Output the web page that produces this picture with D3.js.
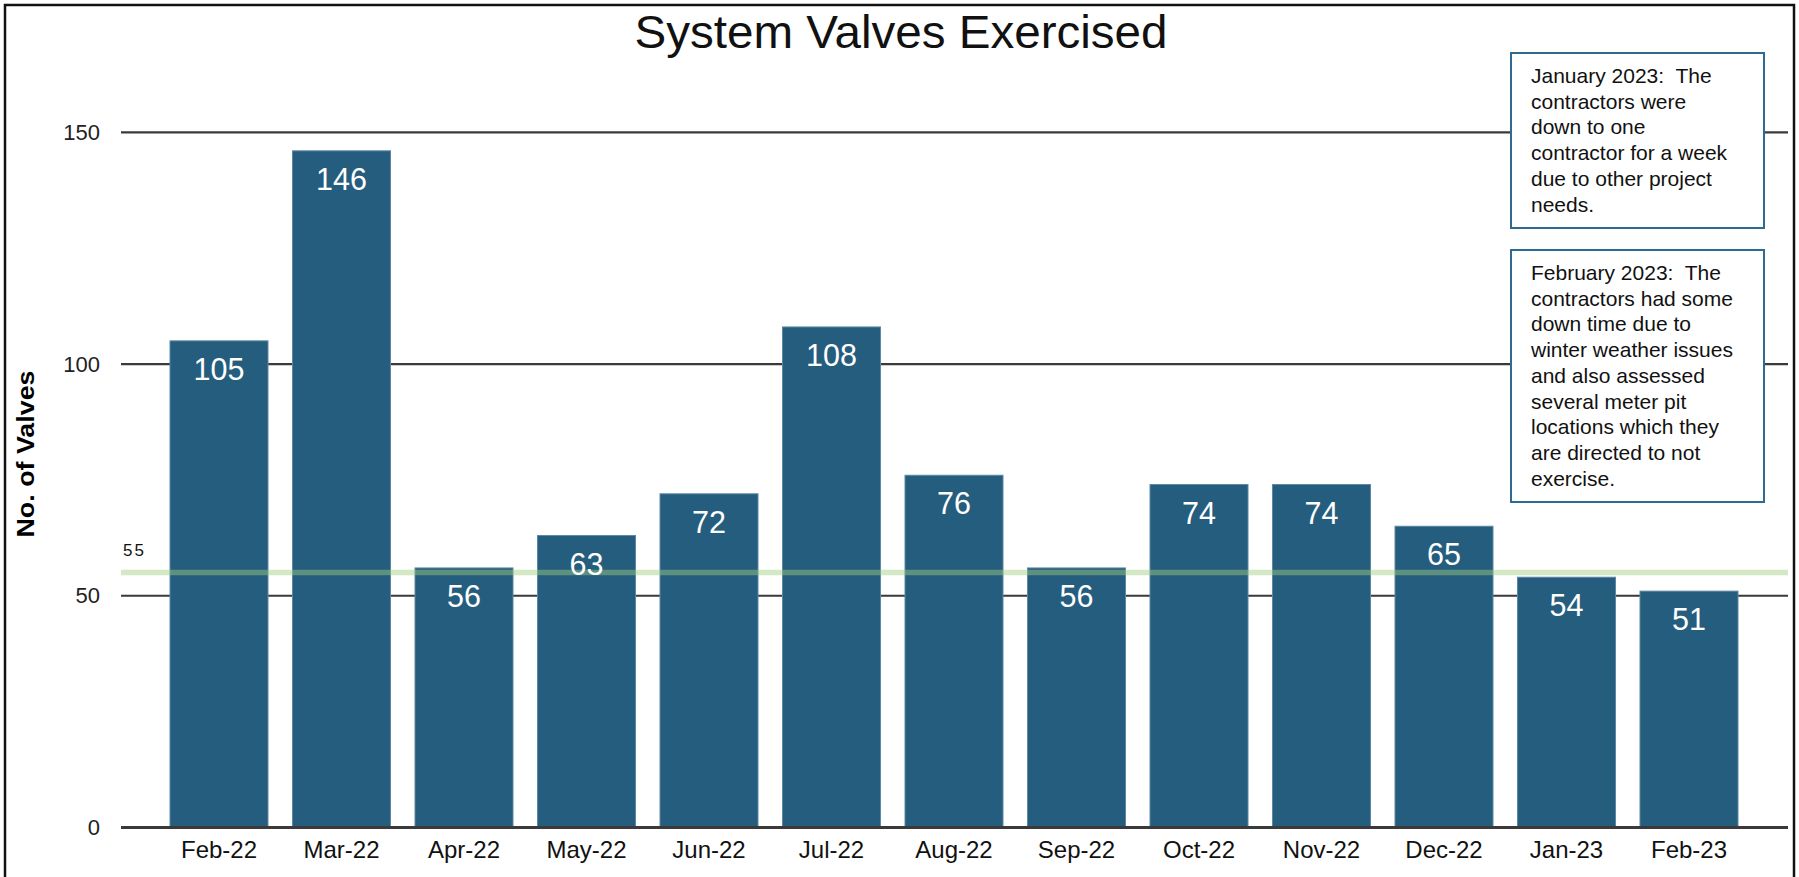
<!DOCTYPE html>
<html lang="en">
<head>
    <meta charset="UTF-8">
    <title>System Valves Exercised</title>
    <style>
        body {
            margin: 0;
            padding: 0;
            overflow: hidden;
            background: #fff;
            font-family: Arial, "Liberation Sans", sans-serif;
        }
    </style>
</head>
<body>
    <script src="https://d3js.org/d3.v7.min.js"></script>
    <script>
        const months = ["Feb-22", "Mar-22", "Apr-22", "May-22", "Jun-22", "Jul-22", "Aug-22",
                        "Sep-22", "Oct-22", "Nov-22", "Dec-22", "Jan-23", "Feb-23"];
        const valves = [105, 146, 56, 63, 72, 108, 76, 56, 74, 74, 65, 54, 51];
        const yTicks = [0, 50, 100, 150];
        const target = 55;
        const notes = [
            ["January 2023:  The", "contractors were", "down to one", "contractor for a week",
             "due to other project", "needs."],
            ["February 2023:  The", "contractors had some", "down time due to",
             "winter weather issues", "and also assessed", "several meter pit",
             "locations which they", "are directed to not", "exercise."]
        ];

        const width = 1799;
        const height = 877;

        const svg = d3.select("body").append("svg")
            .attr("width", width)
            .attr("height", height);

        svg.append("rect")
            .attr("width", width)
            .attr("height", height)
            .attr("fill", "#fff");

        // outer frame
        svg.append("rect")
            .attr("x", 5).attr("y", 5)
            .attr("width", 1789).attr("height", 920)
            .attr("fill", "none")
            .attr("stroke", "#111")
            .attr("stroke-width", 2.5);

        const x = d3.scaleBand()
            .domain(months)
            .range([170, 1738])
            .paddingInner(0.2)
            .paddingOuter(0);

        const y = d3.scaleLinear()
            .domain([0, 150])
            .range([827.5, 132.3]);

        // gridlines + tick labels
        const grid = svg.append("g");
        grid.selectAll("line")
            .data(yTicks)
            .enter().append("line")
            .attr("x1", 121).attr("x2", 1788)
            .attr("y1", d => y(d)).attr("y2", d => y(d))
            .attr("stroke", "#3a3a3a")
            .attr("stroke-width", d => d === 0 ? 3 : 2.2);

        grid.selectAll("text")
            .data(yTicks)
            .enter().append("text")
            .attr("x", 100)
            .attr("y", d => y(d) + 7.7)
            .attr("text-anchor", "end")
            .attr("font-size", 22)
            .attr("fill", "#222")
            .text(d => d);

        // bars
        svg.append("g")
            .selectAll("rect")
            .data(valves)
            .enter().append("rect")
            .attr("x", (d, i) => x(months[i]))
            .attr("y", d => y(d))
            .attr("width", x.bandwidth())
            .attr("height", d => y(0) - y(d))
            .attr("fill", "#255d7e")
            .attr("stroke", "#5d87a2")
            .attr("stroke-width", 1);

        // zero line on top of bars
        svg.append("line")
            .attr("x1", 121).attr("x2", 1788)
            .attr("y1", y(0)).attr("y2", y(0))
            .attr("stroke", "#3a3a3a")
            .attr("stroke-width", 3);

        // target line
        svg.append("line")
            .attr("x1", 121).attr("x2", 1788)
            .attr("y1", y(target)).attr("y2", y(target))
            .attr("stroke", "#9fcd7f")
            .attr("stroke-opacity", 0.46)
            .attr("stroke-width", 5.5);

        svg.append("text")
            .attr("x", 123)
            .attr("y", y(target) - 17)
            .attr("font-size", 17)
            .attr("letter-spacing", 2)
            .attr("fill", "#111")
            .text(target);

        // value labels
        svg.append("g")
            .selectAll("text")
            .data(valves)
            .enter().append("text")
            .attr("x", (d, i) => x(months[i]) + x.bandwidth() / 2)
            .attr("y", d => y(d) + 39)
            .attr("text-anchor", "middle")
            .attr("font-size", 30.5)
            .attr("fill", "#fff")
            .text(d => d);

        // x labels
        svg.append("g")
            .selectAll("text")
            .data(months)
            .enter().append("text")
            .attr("x", d => x(d) + x.bandwidth() / 2)
            .attr("y", 857.5)
            .attr("text-anchor", "middle")
            .attr("font-size", 24)
            .attr("fill", "#111")
            .text(d => d);

        // title
        svg.append("text")
            .attr("x", 901)
            .attr("y", 47.7)
            .attr("text-anchor", "middle")
            .attr("font-size", 46)
            .attr("textLength", 533)
            .attr("lengthAdjust", "spacingAndGlyphs")
            .attr("fill", "#111")
            .text("System Valves Exercised");

        // y axis label
        svg.append("text")
            .attr("transform", "translate(34,454) rotate(-90)")
            .attr("text-anchor", "middle")
            .attr("font-size", 23)
            .attr("font-weight", "bold")
            .attr("textLength", 167)
            .attr("lengthAdjust", "spacingAndGlyphs")
            .attr("fill", "#000")
            .text("No. of Valves");

        // note boxes
        const boxes = [
            { top: 53, h: 175 },
            { top: 250, h: 252 }
        ];
        boxes.forEach((b, k) => {
            const g = svg.append("g");
            g.append("rect")
                .attr("x", 1511).attr("y", b.top)
                .attr("width", 253).attr("height", b.h)
                .attr("fill", "#fff")
                .attr("stroke", "#2e6b92")
                .attr("stroke-width", 2);
            g.selectAll("text")
                .data(notes[k])
                .enter().append("text")
                .attr("x", 1531)
                .attr("y", (d, i) => b.top + 30 + i * 25.7)
                .attr("font-size", 21)
                .attr("fill", "#111")
                .attr("xml:space", "preserve")
                .style("white-space", "pre")
                .text(d => d);
        });
    </script>
</body>
</html>
